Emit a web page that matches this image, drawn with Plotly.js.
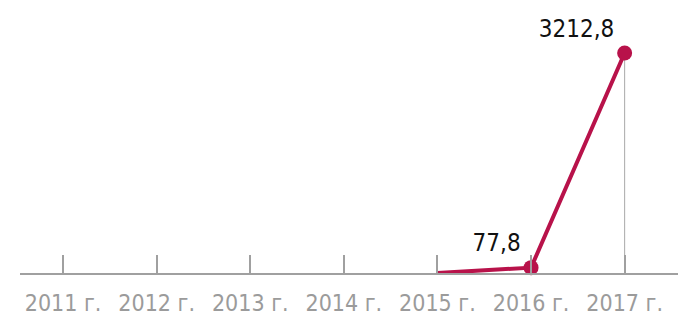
<!DOCTYPE html>
<html>
<head>
<meta charset="utf-8">
<script src="https://cdn.plot.ly/plotly-3.0.1.min.js"></script>
<style>html,body{margin:0;padding:0;background:#fff;}#chart{width:678px;height:321px;}</style>
</head>
<body>
<div id="chart"></div>
<script>
const years = ['2011 г.', '2012 г.', '2013 г.', '2014 г.', '2015 г.', '2016 г.', '2017 г.'];
const lineYears = ['2015 г.', '2016 г.', '2017 г.'];
const lineValues = [0, 77.8, 3212.8];

const FONT = '"DejaVu Sans Condensed", "Liberation Sans Narrow", sans-serif';
const RED = '#b8124a';

const dropLines = {
  x: lineYears, y: lineValues, type: 'scatter', mode: 'markers',
  marker: {size: 0, opacity: 0},
  error_y: {type: 'data', symmetric: false, array: lineValues.map(() => 0), arrayminus: lineValues,
            width: 0, thickness: 1, color: '#a8a8a8'},
  hoverinfo: 'skip', showlegend: false
};

const line = {
  x: lineYears, y: lineValues, type: 'scatter', mode: 'lines+markers+text',
  line: {color: RED, width: 4},
  marker: {color: RED, opacity: 1, line: {width: 0}, size: lineValues.map(v => v > 0 ? 15 : 0)},
  text: lineValues.map(v => v > 0 ? v.toFixed(1).replace('.', ',') : ''),
  textposition: 'top left',
  textfont: {family: FONT, size: 24, color: '#111'},
  cliponaxis: false, showlegend: false
};

const layout = {
  width: 678, height: 321,
  margin: {l: 20, r: 0, t: 20, b: 48},
  paper_bgcolor: '#fff', plot_bgcolor: '#fff',
  xaxis: {
    type: 'category', categoryorder: 'array', categoryarray: years,
    range: [-0.46, 6.57], showgrid: false, zeroline: false,
    showline: true, linecolor: '#a0a0a0', linewidth: 2,
    ticks: 'inside', ticklen: 18, tickwidth: 2, tickcolor: '#a0a0a0',
    tickfont: {family: FONT, size: 23, color: '#9b9b9b'},
    ticklabelstandoff: 8,
    fixedrange: true
  },
  yaxis: {
    range: [0, 3694.7], visible: false, showgrid: false, zeroline: false, fixedrange: true
  },
  showlegend: false
};

const axisTrace = {x: years, y: years.map(() => null), type: 'scatter', mode: 'markers', hoverinfo: 'skip', showlegend: false};

Plotly.newPlot('chart', [axisTrace, dropLines, line], layout, {displayModeBar: false, staticPlot: true});
</script>
</body>
</html>
